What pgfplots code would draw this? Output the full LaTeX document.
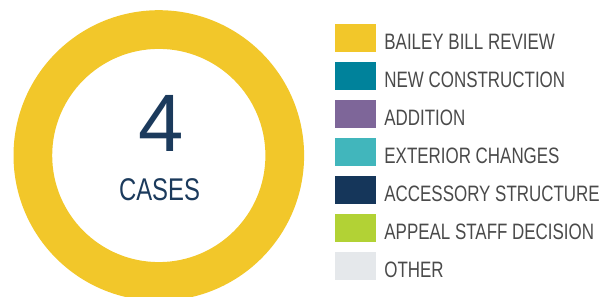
\documentclass[border=0pt]{standalone}
\usepackage{fontspec}
\setmainfont{Liberation Sans}[FakeStretch=0.76]
\newfontfamily\numfont{Liberation Sans}
\usepackage{pgfplots}
\pgfplotsset{compat=1.18}
\definecolor{cBailey}{HTML}{F2C72A}
\definecolor{cNew}{HTML}{00829B}
\definecolor{cAdd}{HTML}{7E6699}
\definecolor{cExt}{HTML}{41B6BC}
\definecolor{cAcc}{HTML}{15365A}
\definecolor{cApp}{HTML}{B2D235}
\definecolor{cOth}{HTML}{E5E8EB}
\definecolor{navy}{HTML}{1B3A5C}
\definecolor{legtext}{HTML}{4A4A4A}
% Cases per type: Bailey Bill Review 4, all others 0 -> total 4
\begin{document}
\begin{tikzpicture}
\begin{axis}[
  scale only axis, width=613bp, height=297bp,
  xmin=0, xmax=613, ymin=0, ymax=297,
  hide axis, clip=true,
  legend image code/.code={%
    \fill[#1] (0bp,-1.5bp) rectangle (40bp,24.8bp);
    \path (49bp,0bp);},
  legend style={at={(axis cs:335,272.7)}, anchor=north west,
    draw=none, fill=none, inner sep=0pt, outer sep=0pt,
    row sep=11.3bp,
    nodes={anchor=base west, inner sep=0pt, outer sep=0pt,
      text=legtext, font=\fontsize{22.3bp}{24bp}\selectfont}},
]
% donut: Bailey Bill Review = 4 of 4 cases -> full ring
\fill[cBailey, even odd rule] (axis cs:158.8,141.5) circle[radius=145.3]
   (axis cs:158.8,141.5) circle[radius=106.6];
\addlegendimage{cBailey}\addlegendentry{BAILEY BILL REVIEW}
\addlegendimage{cNew}\addlegendentry{NEW CONSTRUCTION}
\addlegendimage{cAdd}\addlegendentry{ADDITION}
\addlegendimage{cExt}\addlegendentry{EXTERIOR CHANGES}
\addlegendimage{cAcc}\addlegendentry{ACCESSORY STRUCTURE}
\addlegendimage{cApp}\addlegendentry{APPEAL STAFF DECISION}
\addlegendimage{cOth}\addlegendentry{OTHER}
\node[anchor=base, inner sep=0pt, text=navy, font=\numfont\fontsize{81.5bp}{82bp}\selectfont] at (axis cs:161.2,145.3) {4};
\node[anchor=base, inner sep=0pt, text=navy, font=\fontsize{31.4bp}{32bp}\selectfont] at (axis cs:159.5,96.5) {CASES};
\end{axis}
\pgfresetboundingbox
\useasboundingbox (current axis.south west) rectangle (current axis.north east);
\end{tikzpicture}
\end{document}
